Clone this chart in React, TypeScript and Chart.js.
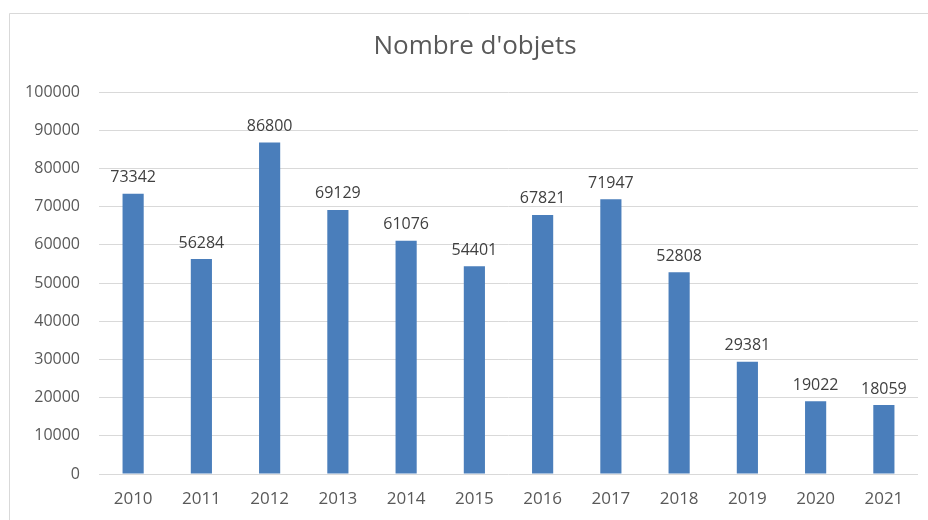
import React, { useEffect, useRef } from "react";
import { Chart, registerables } from "chart.js";

Chart.register(...registerables);

const years = ["2010", "2011", "2012", "2013", "2014", "2015", "2016", "2017", "2018", "2019", "2020", "2021"];
const counts = [73342, 56284, 86800, 69129, 61076, 54401, 67821, 71947, 52808, 29381, 19022, 18059];
const chartTitle = "Nombre d'objets";

const FONT = "'Open Sans', sans-serif";

const framePlugin = {
  id: "frame",
  beforeDraw(chart: any) {
    const ctx = chart.ctx;
    ctx.save();
    ctx.fillStyle = "#ffffff";
    ctx.fillRect(0, 0, chart.width, chart.height);
    ctx.strokeStyle = "#d9d9d9";
    ctx.lineWidth = 1;
    ctx.beginPath();
    ctx.moveTo(9.5, chart.height + 5);
    ctx.lineTo(9.5, 13.5);
    ctx.lineTo(chart.width + 5, 13.5);
    ctx.stroke();
    ctx.fillStyle = "#595959";
    ctx.font = `26px ${FONT}`;
    ctx.textAlign = "center";
    ctx.textBaseline = "middle";
    ctx.fillText(chartTitle, 475, 47);
    ctx.restore();
  },
  afterDatasetsDraw(chart: any) {
    const ctx = chart.ctx;
    const meta = chart.getDatasetMeta(0);
    ctx.save();
    ctx.fillStyle = "#404040";
    ctx.font = `16px ${FONT}`;
    ctx.textAlign = "center";
    ctx.textBaseline = "bottom";
    meta.data.forEach((bar: any, i: number) => {
      ctx.fillText(String(counts[i]), bar.x, bar.y - 8);
    });
    ctx.restore();
  },
};

export default function App() {
  const ref = useRef<HTMLCanvasElement | null>(null);
  useEffect(() => {
    if (!ref.current) return;
    const chart = new Chart(ref.current, {
      type: "bar",
      data: {
        labels: years,
        datasets: [
          {
            data: counts,
            backgroundColor: "#4a7ebb",
            barPercentage: 0.62,
            categoryPercentage: 0.5,
          },
        ],
      },
      options: {
        responsive: false,
        animation: false,
        devicePixelRatio: 1,
        layout: { padding: { left: 10, right: 10, top: 92, bottom: 0 } },
        plugins: { legend: { display: false }, title: { display: false }, tooltip: { enabled: false } },
        scales: {
          x: {
            grid: { display: false, drawTicks: false },
            border: { display: false },
            ticks: { color: "#595959", font: { family: FONT, size: 17 }, padding: 15, maxRotation: 0 },
            afterFit: (s: any) => {
              s.height = 46;
            },
          },
          y: {
            min: 0,
            max: 100000,
            grid: { color: "#d9d9d9", drawTicks: false, lineWidth: 1 },
            border: { display: false },
            ticks: {
              stepSize: 10000,
              color: "#595959",
              font: { family: FONT, size: 16 },
              padding: 19,
              callback: (v: any) => String(v),
            },
            afterFit: (s: any) => {
              s.width = 89;
            },
          },
        },
      },
      plugins: [framePlugin],
    });
    return () => chart.destroy();
  }, []);
  return (
    <div style={{ position: "fixed", left: 0, top: 0, width: 928, height: 520 }}>
      <canvas ref={ref} width={928} height={520} style={{ display: "block" }} />
    </div>
  );
}
